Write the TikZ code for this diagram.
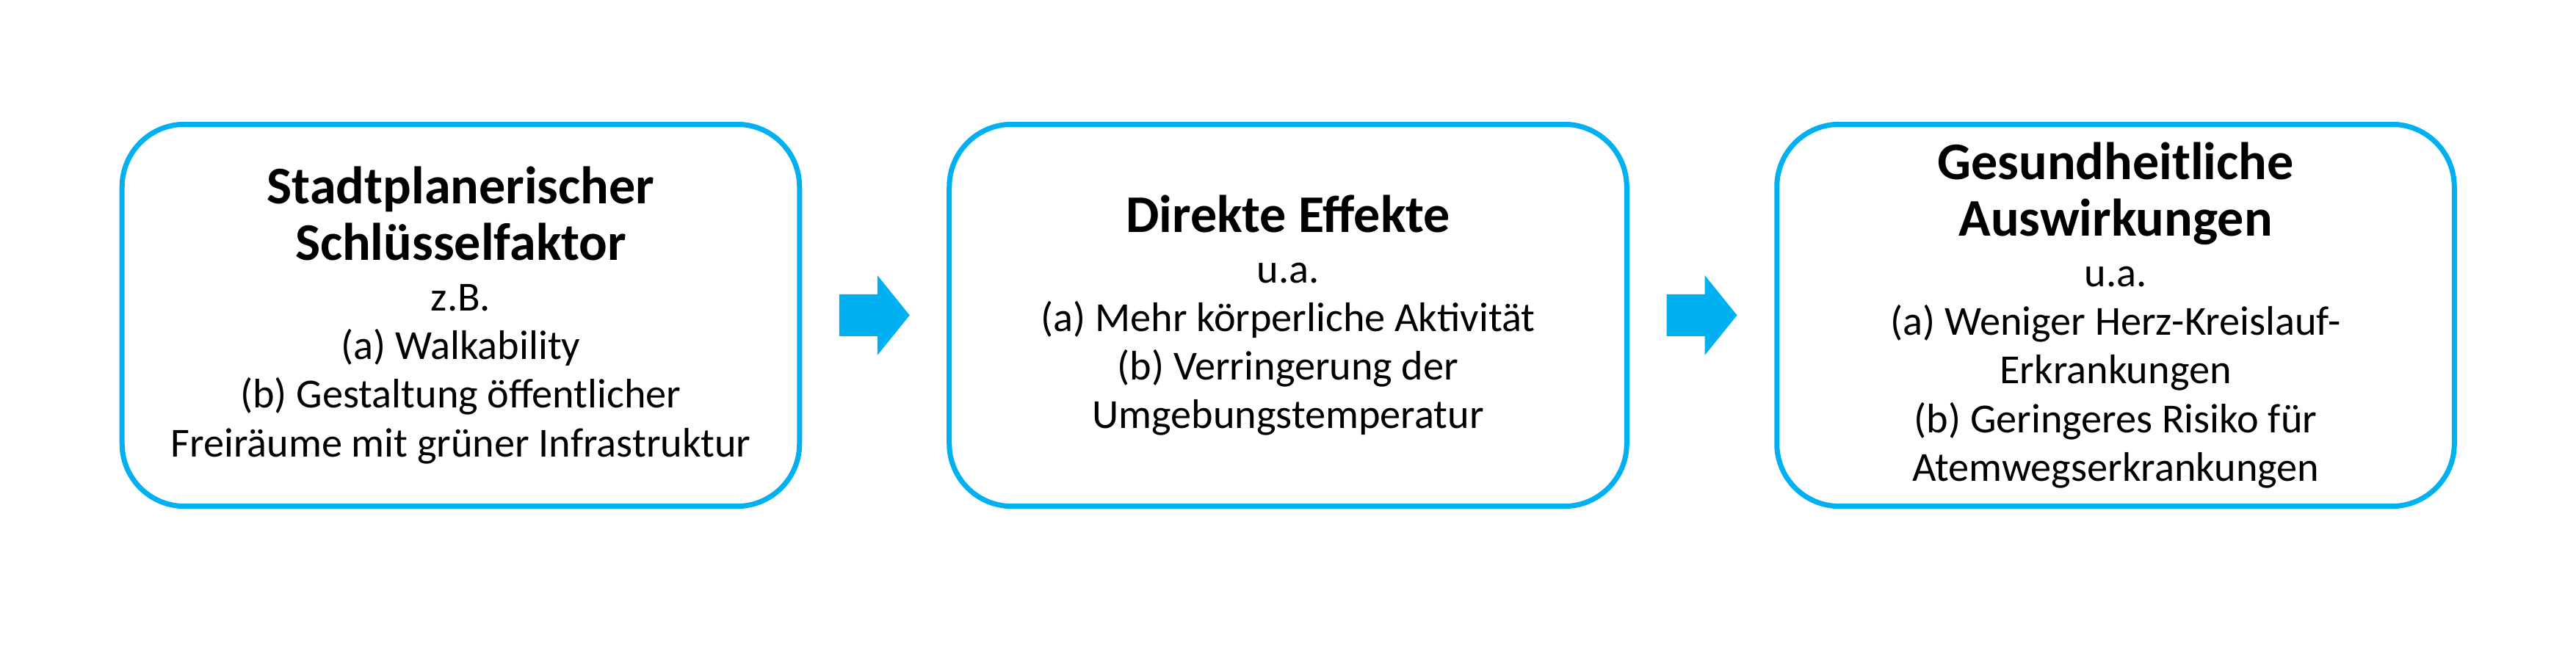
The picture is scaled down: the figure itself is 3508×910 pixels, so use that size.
\documentclass[tikz,border=0pt]{standalone}
\usepackage{fontspec}
\setmainfont{Carlito}
\usetikzlibrary{calc}
\definecolor{boxblue}{RGB}{0,176,240}
\setlength{\lineskiplimit}{-50pt}
\newcommand{\headf}[1]{{\fontsize{20.5pt}{21.9pt}\selectfont\bfseries #1}}
\newcommand{\flowarrowat}[1]{%
  \fill[flowarrow] ([shift={(-48,-28.5)}]#1) -- ([shift={(4,-28.5)}]#1) -- ([shift={(4,-54.5)}]#1)
    -- ([shift={(48,0)}]#1) -- ([shift={(4,54.5)}]#1) -- ([shift={(4,28.5)}]#1)
    -- ([shift={(-48,28.5)}]#1) -- cycle;}
\begin{document}
\begin{tikzpicture}[x=0.01cm,y=-0.01cm,
  stepbox/.style={draw=boxblue, line width=0.07cm, rounded corners=0.85cm,
    minimum width=9.22cm, minimum height=5.2cm, inner sep=0pt, align=center,
    font=\fontsize{16pt}{18.8pt}\selectfont},
  flowarrow/.style={fill=boxblue, draw=none}]
\useasboundingbox (0,0) rectangle (3508,910);
\node[stepbox] (b1) at (627.5,429.5) {\headf{Stadtplanerischer}\\[3.1pt]\headf{Schlüsselfaktor}\\[0.8pt]z.B.\\(a) Walkability\\(b) Gestaltung öffentlicher\\Freiräume mit grüner Infrastruktur};
\node[stepbox] (b2) at (1754,429.5) {\headf{Direkte Effekte}\\[0.8pt]u.a.\\(a) Mehr körperliche Aktivität\\(b) Verringerung der\\Umgebungstemperatur};
\node[stepbox] (b3) at (2881,429.5) {\headf{Gesundheitliche}\\[3.1pt]\headf{Auswirkungen}\\[0.8pt]u.a.\\(a) Weniger Herz-Kreislauf-\\Erkrankungen\\(b) Geringeres Risiko für\\Atemwegserkrankungen};
\coordinate (m1) at ($(b1.east)!0.5!(b2.west)$);
\coordinate (m2) at ($(b2.east)!0.5!(b3.west)$);
\flowarrowat{m1}
\flowarrowat{m2}
\end{tikzpicture}
\end{document}
